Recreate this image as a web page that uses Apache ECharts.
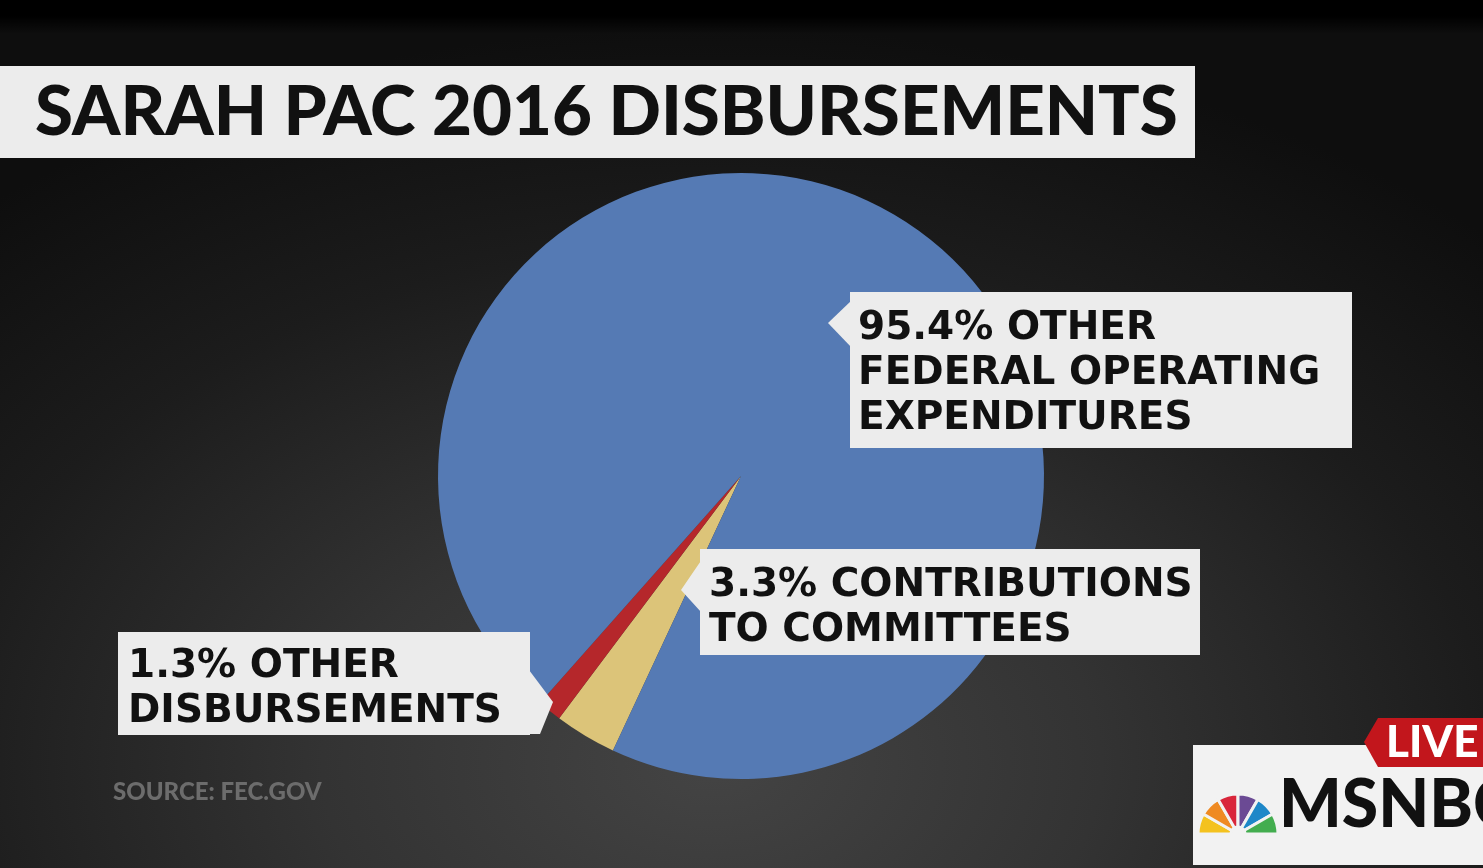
<!DOCTYPE html>
<html><head><meta charset="utf-8">
<script src="https://cdn.jsdelivr.net/npm/echarts@6/dist/echarts.min.js"></script>
<style>
html,body{margin:0;padding:0;background:#000;}
#c{width:1483px;height:868px;
background:
 linear-gradient(to bottom, #000 0px, #000 16px, rgba(0,0,0,0) 34px),
 radial-gradient(ellipse 75% 85% at 48% 88%, #444 0%, #333 35%, #1c1c1c 70%, #0e0e0e 100%);}
</style>
</head><body><div id="c"></div>
<script>
// ---- data ----
const titleText = 'SARAH PAC 2016 DISBURSEMENTS';
const categories = ['CONTRIBUTIONS\nTO COMMITTEES', 'OTHER\nDISBURSEMENTS', 'OTHER\nFEDERAL OPERATING\nEXPENDITURES'];
const values = [3.3, 1.3, 95.4];
const sourceText = 'SOURCE: FEC.GOV';

// ---- styles / layout ----
const sliceColors = ['#dcc479', '#b5272b', '#557ab4'];
const boxColor = '#ececec';
const FONT = 'Lato, "Open Sans", sans-serif';
const LABEL_FONT = '"DejaVu Sans", Lato, sans-serif';
const labelBoxes = [
  {x: 700, y: 549, w: 500, h: 106, pad: [14, 0, 0, 9]},
  {x: 118, y: 632, w: 412, h: 103, pad: [12, 0, 0, 10]},
  {x: 850, y: 292, w: 502, h: 156, pad: [14, 0, 0, 8]}
];

const chart = echarts.init(document.getElementById('c'), null, {renderer: 'canvas'});

const data = values.map((v, i) => {
  const b = labelBoxes[i];
  return {
    value: v, name: categories[i],
    itemStyle: {color: sliceColors[i]},
    label: {width: b.w - b.pad[1] - b.pad[3], height: b.h - b.pad[0] - b.pad[2], padding: b.pad}
  };
});

const peacockColors = ['#f4c21f', '#ef8a22', '#d9263b', '#6b4a94', '#1d87c8', '#43ad4f'];
const peacock = peacockColors.map((c, i) => ({
  type: 'sector', z: 20,
  shape: {cx: 1238, cy: 834, r: 40, r0: 7,
    startAngle: Math.PI + i * Math.PI / 6, endAngle: Math.PI + (i + 1) * Math.PI / 6},
  style: {fill: c, stroke: '#f2f2f2', lineWidth: 3}
}));

chart.setOption({
  animation: false,
  graphic: {elements: [
    {type: 'rect', z: 10, shape: {x: 0, y: 66, width: 1195, height: 92}, style: {fill: boxColor}},
    {type: 'text', z: 11, x: 35, y: 113, style: {text: titleText, fill: '#111', fontFamily: FONT, fontWeight: 900, fontSize: 69, verticalAlign: 'middle', align: 'left'}},
    // label pointer tips
    {type: 'polygon', z: 10, shape: {points: [[852, 300], [828, 323], [852, 348]]}, style: {fill: boxColor}},
    {type: 'polygon', z: 10, shape: {points: [[701, 549], [709, 549], [681, 590], [701, 612]]}, style: {fill: boxColor}},
    {type: 'polygon', z: 10, shape: {points: [[529, 670], [553, 702], [540, 734], [529, 734]]}, style: {fill: boxColor}},
    {type: 'text', z: 11, x: 113, y: 792, style: {text: sourceText, fill: '#6c6c6c', fontFamily: FONT, fontWeight: 900, fontSize: 24, verticalAlign: 'middle'}},
    // logo
    {type: 'rect', z: 15, shape: {x: 1193, y: 745, width: 300, height: 120}, style: {fill: '#f2f2f2'}},
    {type: 'polygon', z: 16, shape: {points: [[1378, 718], [1483, 718], [1483, 767], [1378, 767], [1364, 742]]}, style: {fill: '#c2161c'}},
    {type: 'text', z: 17, x: 1386, y: 743, style: {text: 'LIVE', fill: '#fff', fontFamily: FONT, fontWeight: 900, fontSize: 44, verticalAlign: 'middle'}},
    {type: 'text', z: 17, x: 1279, y: 806, style: {text: 'MSNBC', fill: '#111', fontFamily: FONT, fontWeight: 900, fontSize: 66, verticalAlign: 'middle'}}
  ].concat(peacock)},
  series: [{
    type: 'pie',
    center: [741, 476],
    radius: 303,
    startAngle: 245,
    clockwise: true,
    silent: true,
    emphasis: {disabled: true},
    itemStyle: {borderWidth: 0},
    label: {
      show: true, position: 'inside', rotate: 0,
      formatter: p => p.value.toFixed(1) + '% ' + p.name,
      color: '#111', fontFamily: LABEL_FONT, fontWeight: 'bold', fontSize: 39, lineHeight: 45,
      backgroundColor: boxColor, overflow: 'none', align: 'left', verticalAlign: 'top'
    },
    labelLine: {show: false},
    labelLayout: function (p) {
      const b = labelBoxes[p.dataIndex];
      return {x: b.x, y: b.y, align: 'left', verticalAlign: 'top'};
    },
    data: data
  }]
});
</script>
</body></html>
